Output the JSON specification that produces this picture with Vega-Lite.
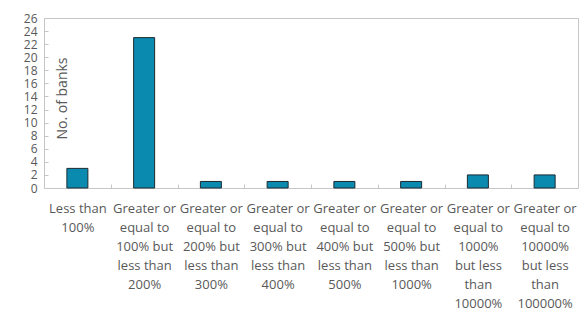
{
  "$schema": "https://vega.github.io/schema/vega-lite/v6.json",
  "autosize": "none",
  "width": 534,
  "height": 170,
  "padding": {"left": 44, "top": 18, "right": 2, "bottom": 122},
  "background": "white",
  "config": {
    "font": "Open Sans",
    "view": {"stroke": "#c6c6c6", "strokeWidth": 1}
  },
  "data": {
    "values": [
      {"range": "Less than\n100%", "banks": 3},
      {"range": "Greater or\nequal to\n100% but\nless than\n200%", "banks": 23},
      {"range": "Greater or\nequal to\n200% but\nless than\n300%", "banks": 1},
      {"range": "Greater or\nequal to\n300% but\nless than\n400%", "banks": 1},
      {"range": "Greater or\nequal to\n400% but\nless than\n500%", "banks": 1},
      {"range": "Greater or\nequal to\n500% but\nless than\n1000%", "banks": 1},
      {"range": "Greater or\nequal to\n1000%\nbut less\nthan\n10000%", "banks": 2},
      {"range": "Greater or\nequal to\n10000%\nbut less\nthan\n100000%", "banks": 2}
    ]
  },
  "mark": {"type": "bar", "fill": "#0b8ab0", "stroke": "#1c2a30", "strokeWidth": 1, "width": 21},
  "encoding": {
    "x": {
      "field": "range",
      "type": "nominal",
      "sort": null,
      "scale": {"paddingInner": 0, "paddingOuter": 0},
      "axis": {
        "title": null,
        "labelAngle": 0,
        "labelExpr": "datum.value ? split(datum.value, '\\n') : ''",
        "labelLineHeight": 19,
        "labelFontSize": 13,
        "labelColor": "#595959",
        "labelPadding": 18,
        "labelBaseline": "top",
        "labelLimit": 0,
        "domainColor": "#c6c6c6",
        "tickColor": "#c6c6c6",
        "tickBand": "extent",
        "tickSize": -4,
        "grid": false
      }
    },
    "y": {
      "field": "banks",
      "type": "quantitative",
      "scale": {"domain": [0, 26], "nice": false},
      "axis": {
        "values": [0, 2, 4, 6, 8, 10, 12, 14, 16, 18, 20, 22, 24, 26],
        "title": "No. of banks",
        "titleFontSize": 14,
        "titleFontWeight": "normal",
        "titleColor": "#595959",
        "titleAngle": -90,
        "titleAlign": "center",
        "titleBaseline": "top",
        "titleX": 11,
        "titleY": 80,
        "labelFontSize": 12,
        "labelColor": "#595959",
        "labelPadding": 11,
        "domainColor": "#c6c6c6",
        "tickColor": "#c6c6c6",
        "tickSize": -4,
        "grid": false
      }
    }
  }
}
